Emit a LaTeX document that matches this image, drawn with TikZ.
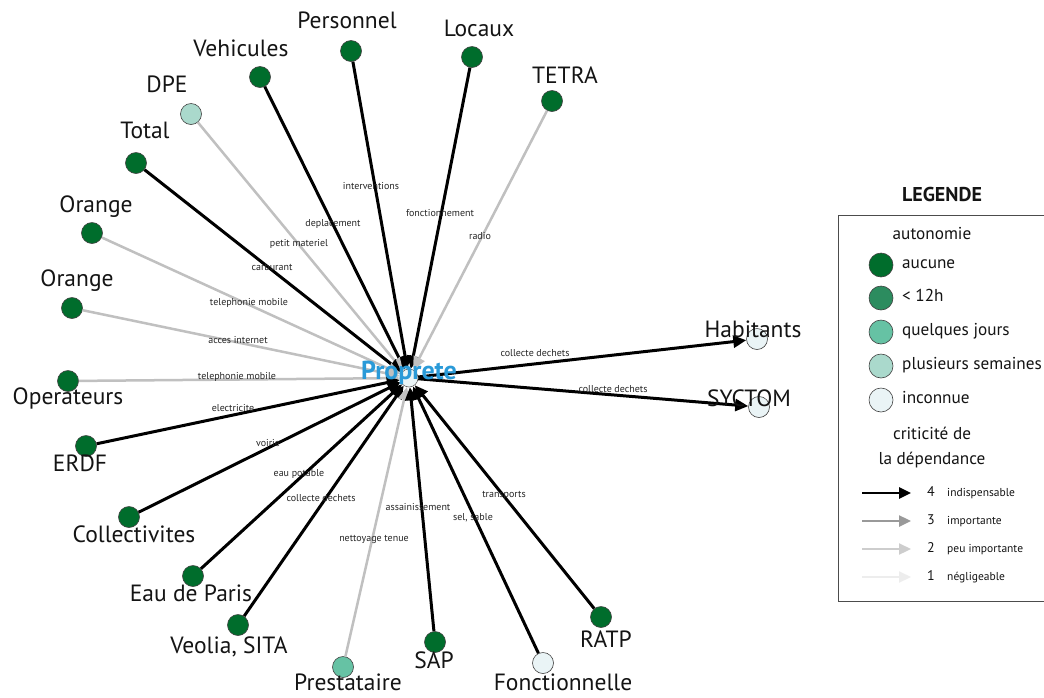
\documentclass[tikz,border=0pt]{standalone}
\usepackage{fontspec}
\setmainfont{PT Sans}
\usetikzlibrary{arrows.meta}
\definecolor{bga}{HTML}{006D2C}
\definecolor{bgb}{HTML}{2C8C5F}
\definecolor{bgc}{HTML}{66C2A4}
\definecolor{bgd}{HTML}{AAD9CC}
\definecolor{bge}{HTML}{EAF4F6}
\definecolor{grc}{HTML}{C0C0C0}
\definecolor{grb}{HTML}{999999}
\definecolor{grd}{HTML}{EDEDED}
\definecolor{propblue}{HTML}{2A9AD8}
\begin{document}
\begin{tikzpicture}[x=1pt,y=-1pt,
  leaf/.style={circle, draw=black!75, line width=0.6pt, minimum size=21pt, inner sep=0pt},
  biglab/.style={font=\fontsize{23.5}{27}\selectfont, text=black!92, inner sep=0pt, text height=0.7em, text depth=0pt},
  elab/.style={font=\fontsize{10}{12}\selectfont, text=black!85, inner sep=0pt, text height=0.7em, text depth=0pt},
  tipb/.style={-{Triangle[length=13pt,width=12pt]}},
  efour/.style={line width=3pt, black, tipb},
  etwo/.style={line width=2.5pt, grc, tipb},
  legtxt/.style={font=\fontsize{17.2}{20}\selectfont, text=black!92, inner sep=0pt, text height=0.7em, text depth=0pt},
  legsmall/.style={font=\fontsize{11.5}{13}\selectfont, text=black!92, inner sep=0pt, text height=0.7em, text depth=0pt, anchor=west},
  legnum/.style={font=\fontsize{14}{16}\selectfont, text=black!92, inner sep=0pt, text height=0.7em, text depth=0pt},
  legdot/.style={circle, draw=black!75, line width=0.6pt, minimum size=24pt, inner sep=0pt},
  legtip/.style={-{Triangle[length=12pt,width=11pt]}}
]
\clip (0,0) rectangle (1044,697);
\fill[white] (0,0) rectangle (1044,697);

% center
\node[circle, draw=black!60, line width=0.6pt, fill=bge, minimum size=18pt, inner sep=0pt] (P) at (409,378) {};

% leaves
\node[leaf, fill=bga] (Personnel) at (351,51) {};
\node[leaf, fill=bga] (Locaux) at (472,57) {};
\node[leaf, fill=bga] (TETRA) at (552,101) {};
\node[leaf, fill=bga] (Vehicules) at (260,77) {};
\node[leaf, fill=bgd] (DPE) at (191,114) {};
\node[leaf, fill=bga] (Total) at (136,163) {};
\node[leaf, fill=bga] (OrangeA) at (92,233) {};
\node[leaf, fill=bga] (OrangeB) at (72,308) {};
\node[leaf, fill=bga] (Operateurs) at (68,381) {};
\node[leaf, fill=bga] (ERDF) at (86,446) {};
\node[leaf, fill=bga] (Collectivites) at (129,517) {};
\node[leaf, fill=bga] (EauParis) at (193,576) {};
\node[leaf, fill=bga] (Veolia) at (238,625) {};
\node[leaf, fill=bgc] (Prestataire) at (343,667) {};
\node[leaf, fill=bga] (SAP) at (435,642) {};
\node[leaf, fill=bge] (Fonctionnelle) at (543,663) {};
\node[leaf, fill=bga] (RATP) at (601,617) {};
\node[leaf, fill=bge] (Habitants) at (757,339) {};
\node[leaf, fill=bge] (SYCTOM) at (759,407) {};

% edges
\draw[efour] (Personnel) -- (P);
\draw[efour] (Locaux) -- (P);
\draw[etwo] (TETRA) -- (P);
\draw[efour] (Vehicules) -- (P);
\draw[etwo] (DPE) -- (P);
\draw[efour] (Total) -- (P);
\draw[etwo] (OrangeA) -- (P);
\draw[etwo] (OrangeB) -- (P);
\draw[etwo] (Operateurs) -- (P);
\draw[efour] (ERDF) -- (P);
\draw[efour] (Collectivites) -- (P);
\draw[efour] (EauParis) -- (P);
\draw[efour] (Veolia) -- (P);
\draw[etwo] (Prestataire) -- (P);
\draw[efour] (SAP) -- (P);
\draw[efour] (Fonctionnelle) -- (P);
\draw[efour] (RATP) -- (P);
\draw[efour] (P) -- (Habitants);
\draw[efour] (P) -- (SYCTOM);

% edge labels
\node[elab] (e1) at (371,186) {interventions};
\node[elab] (e2) at (440,213) {fonctionnement};
\node[elab] (e3) at (480,236) {radio};
\node[elab] (e4) at (333,223) {deplacement};
\node[elab] (e5) at (299,243) {petit materiel};
\node[elab] (e6) at (272,267) {carburant};
\node[elab] (e7) at (249,302) {telephonie mobile};
\node[elab] (e8) at (238,340) {acces internet};
\node[elab] (e9) at (237,376) {telephonie mobile};
\node[elab] (e10) at (233,408) {electricite};
\node[elab] (e11) at (268,443) {voirie};
\node[elab] (e12) at (299,473) {eau potable};
\node[elab] (e13) at (321,498) {collecte dechets};
\node[elab] (e14) at (374,538) {nettoyage tenue};
\node[elab] (e15) at (418,507) {assainissement};
\node[elab] (e16) at (473,517) {sel, sable};
\node[elab] (e17) at (504,494) {transports};
\node[elab] (e18) at (535,353) {collecte dechets};
\node[elab] (e19) at (613,389) {collecte dechets};

% leaf labels
\node[biglab] (lPersonnel) at (347,25) {Personnel};
\node[biglab] (lLocaux) at (479,33) {Locaux};
\node[biglab] (lTETRA) at (565,80) {TETRA};
\node[biglab] (lVehicules) at (241,53) {Vehicules};
\node[biglab] (lDPE) at (167,89) {DPE};
\node[biglab] (lTotal) at (145,135) {Total};
\node[biglab] (lOrangeA) at (96,209) {Orange};
\node[biglab] (lOrangeB) at (77,283) {Orange};
\node[biglab] (lOperateurs) at (68,401) {Operateurs};
\node[biglab] (lERDF) at (80,468) {ERDF};
\node[biglab] (lCollectivites) at (134,539) {Collectivites};
\node[biglab] (lEauParis) at (191,598) {Eau de Paris};
\node[biglab] (lVeolia) at (229,650) {Veolia, SITA};
\node[biglab] (lPrestataire) at (348,687) {Prestataire};
\node[biglab] (lSAP) at (434,665) {SAP};
\node[biglab] (lFonctionnelle) at (563,687) {Fonctionnelle};
\node[biglab] (lRATP) at (606,644) {RATP};
\node[biglab] (lHabitants) at (753,334) {Habitants};
\node[biglab] (lSYCTOM) at (749,403) {SYCTOM};

% center label
\node[font=\fontsize{26}{30}\selectfont\bfseries, text=propblue, inner sep=0pt, text height=0.7em, text depth=0pt] (lP) at (409,376) {Proprete};

% legend
\node[font=\fontsize{20}{24}\selectfont\bfseries, text=black!92, inner sep=0pt, text height=0.7em, text depth=0pt] (legT) at (942,198) {LEGENDE};
\draw[black!70, line width=0.8pt] (838,215) rectangle (1060,601);
\node[legtxt] (lauto) at (932,236) {autonomie};
\node[legdot, fill=bga] (d1) at (881,265) {};
\node[legdot, fill=bgb] (d2) at (881,298) {};
\node[legdot, fill=bgc] (d3) at (881,332) {};
\node[legdot, fill=bgd] (d4) at (881,366) {};
\node[legdot, fill=bge] (d5) at (881,400) {};
\node[legtxt, anchor=west] (t1) at (902,265) {aucune};
\node[legtxt, anchor=west] (t2) at (902,298) {< 12h};
\node[legtxt, anchor=west] (t3) at (902,332) {quelques jours};
\node[legtxt, anchor=west] (t4) at (902,366) {plusieurs semaines};
\node[legtxt, anchor=west] (t5) at (902,400) {inconnue};
\node[legtxt] (lcrit1) at (932,436) {criticité de};
\node[legtxt] (lcrit2) at (932,461) {la dépendance};
\coordinate (s4) at (862,493); \coordinate (f4) at (911,493);
\coordinate (s3) at (862,521); \coordinate (f3) at (911,521);
\coordinate (s2) at (862,549); \coordinate (f2) at (911,549);
\coordinate (s1) at (862,577); \coordinate (f1) at (911,577);
\draw[legtip, line width=2.6pt, black] (s4) -- (f4);
\draw[legtip, line width=2.4pt, grb] (s3) -- (f3);
\draw[legtip, line width=2.2pt, grc!80] (s2) -- (f2);
\draw[legtip, line width=2pt, grd] (s1) -- (f1);
\node[legnum] (n4) at (931,493) {4};
\node[legnum] (n3) at (931,521) {3};
\node[legnum] (n2) at (931,549) {2};
\node[legnum] (n1) at (931,577) {1};
\node[legsmall] (k4) at (947,493) {indispensable};
\node[legsmall] (k3) at (947,521) {importante};
\node[legsmall] (k2) at (947,549) {peu importante};
\node[legsmall] (k1) at (947,577) {négligeable};
\end{tikzpicture}
\end{document}
